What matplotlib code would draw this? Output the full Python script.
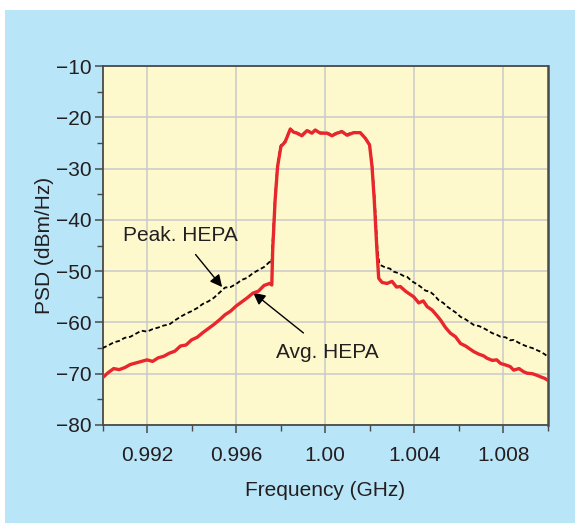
import matplotlib
matplotlib.use("Agg")
import matplotlib.pyplot as plt
from matplotlib.patches import Rectangle
from matplotlib.ticker import MultipleLocator

plt.rcParams['font.family'] = ['Liberation Sans', 'DejaVu Sans']

# ---- data (frequency in GHz, PSD in dBm/Hz) ----
freq_avg = [0.9900, 0.99025, 0.9905, 0.99075, 0.9910, 0.99125, 0.9915, 0.99175, 0.9920, 0.99225,
            0.9925, 0.99275, 0.9930, 0.99325, 0.9935, 0.99375, 0.9940, 0.99425, 0.9945, 0.99475,
            0.9950, 0.99525, 0.9955, 0.99575, 0.9960, 0.99625, 0.9965, 0.99675, 0.9970, 0.99725,
            0.9975, 0.99760,
            0.99764, 0.99775, 0.99786, 0.99801, 0.99820, 0.99843, 0.99858, 0.99873, 0.99895, 0.99918,
            0.99940, 0.99955, 0.99978, 1.00008, 1.00030, 1.00053, 1.00075, 1.00098, 1.00127, 1.00157,
            1.00180, 1.00199, 1.00210, 1.00220, 1.00232, 1.00240,
            1.00255, 1.00277, 1.00300, 1.00320, 1.00337, 1.00360, 1.00380, 1.00397, 1.00420, 1.00440,
            1.00457, 1.00480, 1.00500, 1.00517, 1.00540, 1.00562, 1.00585, 1.00607, 1.00630, 1.00650,
            1.00667, 1.00690, 1.00710, 1.00727, 1.00750, 1.00770, 1.00787, 1.00810, 1.00830, 1.00846,
            1.00870, 1.00890, 1.00906, 1.00930, 1.00950, 1.00966, 1.00985, 1.01000]
psd_avg = [-70.8, -69.8, -69.0, -69.2, -68.8, -68.2, -67.9, -67.6, -67.3, -67.6,
           -66.9, -66.6, -66.0, -65.6, -64.6, -64.4, -63.4, -62.9, -62.0, -61.2,
           -60.4, -59.5, -58.5, -57.8, -56.8, -56.0, -55.2, -54.3, -53.9, -52.8,
           -52.4, -52.7,
           -45.9, -36.1, -29.6, -25.7, -24.8, -22.3, -22.9, -23.1, -23.6, -22.6,
           -23.1, -22.5, -23.1, -23.1, -23.6, -23.1, -22.8, -23.5, -23.0, -23.0,
           -24.1, -25.4, -29.6, -36.1, -45.9, -51.4,
           -52.2, -52.4, -52.0, -53.1, -53.0, -53.9, -54.5, -55.0, -56.2, -55.8,
           -56.9, -57.6, -58.6, -59.5, -61.0, -62.1, -62.8, -64.1, -64.6, -65.2,
           -65.7, -66.2, -66.5, -67.0, -67.4, -67.3, -68.0, -68.3, -68.6, -69.3,
           -69.0, -69.6, -69.9, -70.0, -70.3, -70.6, -70.9, -71.3]

freq_peak = [0.9900, 0.99025, 0.9905, 0.99075, 0.9910, 0.99125, 0.9915, 0.99175, 0.9920, 0.99225,
             0.9925, 0.99275, 0.9930, 0.99325, 0.9935, 0.99375, 0.9940, 0.99425, 0.9945, 0.99475,
             0.9950, 0.99525, 0.9955, 0.99575, 0.9960, 0.99625, 0.9965, 0.99675, 0.9970, 0.99725,
             0.9975, 0.99758,
             0.99762, 0.99774, 0.99785, 0.99800, 0.99820, 0.99843, 0.99858, 0.99873, 0.99895, 0.99918,
             0.99940, 0.99955, 0.99978, 1.00008, 1.00030, 1.00053, 1.00075, 1.00098, 1.00127, 1.00157,
             1.00180, 1.00200, 1.00211, 1.00222, 1.00234, 1.00242,
             1.00247, 1.00270, 1.00290, 1.00307, 1.00330, 1.00350, 1.00367, 1.00390, 1.00410, 1.00427,
             1.00450, 1.00470, 1.00487, 1.00510, 1.00530, 1.00547, 1.00570, 1.00590, 1.00607, 1.00630,
             1.00650, 1.00667, 1.00690, 1.00710, 1.00727, 1.00750, 1.00770, 1.00787, 1.00810, 1.00830,
             1.00846, 1.00870, 1.00890, 1.00906, 1.00930, 1.00950, 1.00966, 1.00985, 1.01000]
psd_peak = [-65.0, -64.5, -63.9, -63.6, -63.0, -62.8, -62.2, -61.6, -61.8, -61.3,
            -61.0, -60.6, -60.4, -59.6, -58.9, -58.3, -57.8, -57.2, -56.4, -55.9,
            -55.2, -54.2, -53.2, -53.1, -52.5, -51.7, -51.3, -50.4, -49.8, -49.2,
            -48.2, -48.6,
            -45.5, -36.0, -29.4, -25.5, -24.6, -22.2, -22.8, -23.0, -23.4, -22.5,
            -23.0, -22.4, -23.0, -23.0, -23.4, -23.0, -22.7, -23.3, -22.9, -22.9,
            -24.0, -25.3, -29.5, -36.0, -45.5, -48.4,
            -48.8, -49.3, -49.5, -50.1, -50.4, -50.9, -51.1, -52.0, -52.5, -53.0,
            -53.8, -54.0, -54.6, -55.7, -56.2, -56.9, -57.6, -58.2, -58.9, -59.4,
            -60.0, -60.5, -60.7, -61.1, -61.5, -62.1, -62.4, -62.8, -62.9, -63.5,
            -63.4, -64.0, -64.4, -64.7, -65.0, -65.4, -65.7, -66.2, -66.7]

x_ticks = [0.992, 0.996, 1.000, 1.004, 1.008]
x_tick_labels = ["0.992", "0.996", "1.00", "1.004", "1.008"]
y_ticks = [-80, -70, -60, -50, -40, -30, -20, -10]
y_tick_labels = ["\u221280", "\u221270", "\u221260", "\u221250", "\u221240", "\u221230", "\u221220", "\u221210"]

TXT = '#231f20'
BLUE = '#b9e5f8'
YELLOW = '#fef9cd'
RED = '#e8262b'
FS = 15

fig = plt.figure(figsize=(5.75, 5.23), dpi=100, facecolor='white')
fig.patches.append(Rectangle((5 / 575, 0), 1 - 5 / 575, (523 - 10) / 523,
                             transform=fig.transFigure, facecolor=BLUE,
                             edgecolor='none', zorder=-10))

ax = fig.add_axes([102.5 / 575, (523 - 425) / 523, (548 - 102.5) / 575, (425 - 66) / 523])
ax.set_facecolor(YELLOW)

ax.plot(freq_peak, psd_peak, color='black', lw=1.3, dashes=(2.5, 1.5), zorder=3)
ax.plot(freq_avg, psd_avg, color=RED, lw=2.4, zorder=4)

ax.set_xlim(0.990, 1.010)
ax.set_ylim(-80, -10)
ax.set_xticks(x_ticks)
ax.set_xticklabels(x_tick_labels)
ax.set_yticks(y_ticks)
ax.set_yticklabels(y_tick_labels)
ax.xaxis.set_minor_locator(MultipleLocator(0.002))
ax.yaxis.set_minor_locator(MultipleLocator(5))

ax.grid(True, which='major', color='#c9c9c9', lw=1.1, zorder=0)
ax.set_axisbelow(True)

for s in ax.spines.values():
    s.set_color('#4a4a4a')
    s.set_linewidth(1.3)
ax.spines['right'].set_linewidth(1.8)

ax.tick_params(which='major', direction='out', length=6, width=1.1, color='#4a4a4a',
               labelsize=FS, labelcolor=TXT, pad=9)
ax.tick_params(which='minor', direction='out', length=4, width=1.0, color='#4a4a4a')
ax.tick_params(axis='y', pad=2)

ax.set_xlabel('Frequency (GHz)', fontsize=FS, color=TXT, labelpad=12)
ax.set_ylabel('PSD (dBm/Hz)', fontsize=FS, color=TXT, labelpad=1)

ax.annotate('Peak. HEPA', xy=(0.99537, -53.1), xytext=(0.99349, -43.1),
            fontsize=FS, color=TXT, ha='center', va='center',
            arrowprops=dict(arrowstyle='-|>', color='black', lw=1.0,
                            mutation_scale=18, shrinkA=6, shrinkB=0))
ax.annotate('Avg. HEPA', xy=(0.99676, -54.2), xytext=(1.0001, -65.8),
            fontsize=FS, color=TXT, ha='center', va='center',
            arrowprops=dict(arrowstyle='-|>', color='black', lw=1.0,
                            mutation_scale=18, shrinkA=8, shrinkB=0))

fig.savefig('out.png', dpi=100, facecolor='white')
